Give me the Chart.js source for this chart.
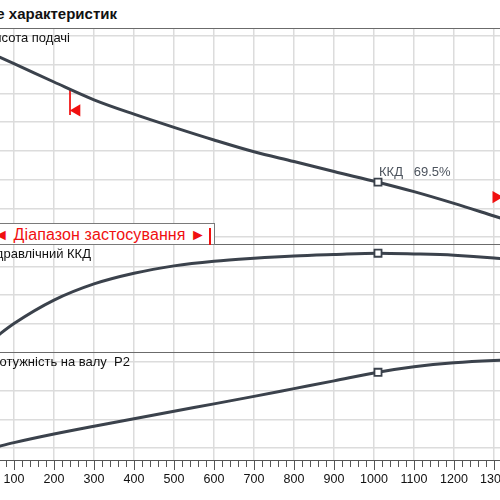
<!DOCTYPE html>
<html lang="uk">
<head>
<meta charset="UTF-8">
<title>Поле характеристик</title>
<script src="https://cdn.jsdelivr.net/npm/chart.js"></script>
<style>
  body { margin: 0; width: 500px; height: 500px; overflow: hidden; position: relative; background: #fff;
         font-family: "Liberation Sans", Arial, sans-serif; }
  .chartbox { position: absolute; left: 0; width: 500px; }
  .txt { position: absolute; white-space: pre; line-height: 15px; font-size: 13px; color: #111; z-index: 3; }
  .rule { position: absolute; left: 0; width: 500px; height: 1px; background: #6b6b6b; z-index: 2; }
  .title { font-weight: bold; font-size: 15px; line-height: 17px; }
  .range { position: absolute; left: -20px; top: 223px; width: 235px; height: 22px; box-sizing: border-box;
           border: 1px solid #7a7a7a; background: #fff; z-index: 4; }
  .range span { position: absolute; right: 8px; top: 1px; color: #f01010; font-size: 16px; line-height: 19px;
                white-space: pre; letter-spacing: 0.1px; }
  .range i { position: absolute; left: 228px; top: 4px; width: 2px; height: 17px; background: #f01010; }
</style>
</head>
<body>

<div class="txt title" style="right:383px; top:5px;">Поле характеристик</div>
<div class="rule" style="top:28px;"></div>

<div class="chartbox" style="top:29px; height:215px;"><canvas id="headChart" width="500" height="215"></canvas></div>
<div class="chartbox" style="top:244px; height:108px;"><canvas id="effChart" width="500" height="108"></canvas></div>
<div class="chartbox" style="top:352px; height:148px;"><canvas id="powerChart" width="500" height="148"></canvas></div>

<div class="rule" style="top:244px;"></div>
<div class="rule" style="top:352px;"></div>

<div class="txt" style="right:430px; top:30px;">Висота подачі</div>
<div class="txt" style="right:409px; top:246px;">Гідравлічний ККД</div>
<div class="txt" style="right:370px; top:354px;">Потужність на валу  P2</div>
<div class="txt" style="left:379px; top:164px; color:#4d545e;">ККД   69.5%</div>

<div class="range"><span>◄ Діапазон застосування ►</span><i></i></div>

<script>
// витрата Q, м³/год
const flow = [50, 100, 200, 300, 400, 500, 600, 700, 800, 900, 1010, 1100, 1200, 1300, 1350];
// висота подачі
const head = [7.35, 7.04, 6.40, 5.78, 5.28, 4.82, 4.38, 3.97, 3.63, 3.28, 2.91, 2.58, 2.17, 1.73, 1.51];
// гідравлічний ККД, %
const efficiency = [9.5, 20.0, 36.5, 47.9, 55.4, 60.6, 63.9, 66.0, 67.6, 68.6, 69.5, 69.0, 68.1, 66.2, 64.8];
// потужність на валу P2
const power = [1.02, 1.19, 1.49, 1.76, 2.02, 2.28, 2.54, 2.80, 3.07, 3.34, 3.64, 3.83, 3.97, 4.05, 4.07];

// робоча точка
const dutyFlow = 1010;
const dutyHead = 2.91;
const dutyEff = 69.5;
const dutyPower = 3.64;

// межі діапазону застосування
const minFlowLineQ = [240, 240];
const minFlowLineH = [6.12, 5.25];
const rangeArrowQ = [257, 1305];
const rangeArrowH = [5.41, 2.39];

const flowTicks = [100, 200, 300, 400, 500, 600, 700, 800, 900, 1000, 1100, 1200, 1300];
const headTicks = [1, 2, 3, 4, 5, 6, 7, 8];
const effTicks = [20, 40, 60];
const powerTicks = [1, 2, 3, 4];

const CURVE = '#3b424c';
const GRID = '#dcdcdc';
const RED = '#f01010';

function pts(xs, ys) { return xs.map((x, i) => ({ x: x, y: ys[i] })); }

function curve(ys) {
  return { data: pts(flow, ys), borderColor: CURVE, borderWidth: 3, pointRadius: 0,
           cubicInterpolationMode: 'monotone', fill: false };
}
function duty(y) {
  return { data: [{ x: dutyFlow, y: y }], showLine: false, pointStyle: 'rect', pointRadius: 5,
           pointBackgroundColor: '#fff', pointBorderColor: CURVE, pointBorderWidth: 1.8 };
}

const tickMarks = {
  id: 'tickMarks',
  afterDraw(chart) {
    const sx = chart.scales.x, ctx = chart.ctx, top = chart.chartArea.bottom;
    ctx.save();
    ctx.strokeStyle = '#555';
    ctx.lineWidth = 1;
    for (let q = 80; q <= 1320; q += 20) {
      const px = Math.round(sx.getPixelForValue(q)) + 0.5;
      const len = q % 100 === 0 ? 10 : 7;
      ctx.beginPath(); ctx.moveTo(px, top); ctx.lineTo(px, top + len); ctx.stroke();
    }
    ctx.restore();
  }
};

function setTicks(list) {
  return s => { s.ticks = list.map(v => ({ value: v })); };
}

function makeChart(id, datasets, yMin, yMax, yTicks, bottom) {
  return new Chart(document.getElementById(id), {
    type: 'line',
    data: { datasets: datasets },
    options: {
      responsive: false,
      animation: false,
      devicePixelRatio: 1,
      layout: { autoPadding: false, padding: 0 },
      plugins: { legend: { display: false }, tooltip: { enabled: false } },
      scales: {
        x: {
          type: 'linear', min: 65, max: 1315,
          afterBuildTicks: setTicks(flowTicks),
          afterFit: s => { s.height = bottom ? 40 : 0; s.paddingLeft = 0; s.paddingRight = 0; },
          grid: { color: GRID, lineWidth: 1.5, drawTicks: false },
          border: { display: bottom, color: '#555', width: 1 },
          ticks: { display: bottom, color: '#111', padding: 12, autoSkip: false, maxRotation: 0,
                   includeBounds: false, stepSize: 100,
                   callback: v => String(v),
                   font: { family: 'Liberation Sans', size: 12.5 } }
        },
        y: {
          type: 'linear', min: yMin, max: yMax,
          afterBuildTicks: setTicks(yTicks),
          afterFit: s => { s.width = 0; s.paddingTop = 0; s.paddingBottom = 0; },
          grid: { color: GRID, lineWidth: 1.5, drawTicks: false },
          border: { display: false },
          ticks: { display: false, includeBounds: false }
        }
      }
    },
    plugins: bottom ? [tickMarks] : []
  });
}

makeChart('headChart', [
  duty(dutyHead),
  curve(head),
  { data: pts(minFlowLineQ, minFlowLineH), borderColor: RED, borderWidth: 1, pointRadius: 0 },
  { data: pts(rangeArrowQ, rangeArrowH), showLine: false, pointStyle: 'triangle', pointRadius: 7,
    pointRotation: [-90, 90], pointBackgroundColor: RED, pointBorderWidth: 0 }
], 0.756, 8.247, headTicks, false);

makeChart('effChart', [duty(dutyEff), curve(efficiency)], 0, 76, effTicks, false);

makeChart('powerChart', [duty(dutyPower), curve(power)], 0.585, 4.346, powerTicks, true);
</script>
</body>
</html>
